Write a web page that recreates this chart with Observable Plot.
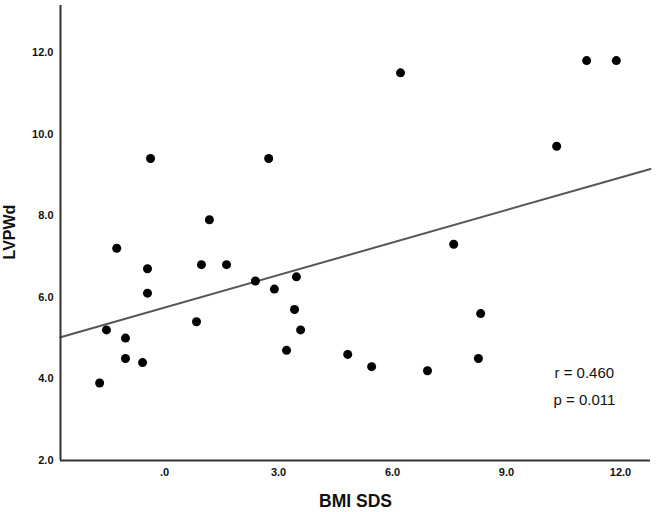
<!DOCTYPE html>
<html><head><meta charset="utf-8">
<script src="https://cdn.jsdelivr.net/npm/d3@7"></script>
<script src="https://cdn.jsdelivr.net/npm/@observablehq/plot@0.6"></script>
<style>body{margin:0;background:#fff;}</style>
</head><body><div id="chart"></div>
<script>
const bmiSds = [-1.71, -1.53, -1.26, -1.03, -1.03, -0.58, -0.45, -0.45, -0.37, 0.84, 0.97, 1.18, 1.63, 2.39, 2.74, 2.89, 3.21, 3.42, 3.47, 3.58, 4.82, 5.45, 6.21, 6.92, 7.61, 8.26, 8.32, 10.32, 11.11, 11.89];
const lvpwd  = [3.9, 5.2, 7.2, 5.0, 4.5, 4.4, 6.7, 6.1, 9.4, 5.4, 6.8, 7.9, 6.8, 6.4, 9.4, 6.2, 4.7, 5.7, 6.5, 5.2, 4.6, 4.3, 11.5, 4.2, 7.3, 4.5, 5.6, 9.7, 11.8, 11.8];
const xTicks = [0, 3, 6, 9, 12];
const yTicks = [2, 4, 6, 8, 10, 12];
const xDomain = [-2.74, 12.79];
const yDomain = [2, 13.15];
const xTitle = "BMI SDS";
const yTitle = "LVPWd";
const statR = "r = 0.460";
const statP = "p = 0.011";

const points = bmiSds.map((x, i) => ({x, y: lvpwd[i]}));
const mx = d3.mean(bmiSds), my = d3.mean(lvpwd);
const slope = d3.sum(points, d => (d.x - mx) * (d.y - my)) / d3.sum(points, d => (d.x - mx) ** 2);
const intercept = my - slope * mx;
const fit = xDomain.map(x => ({x, y: intercept + slope * x}));
const fmt = d => d === 0 ? ".0" : d.toFixed(1);

const chart = Plot.plot({
  width: 657, height: 512,
  marginLeft: 60, marginRight: 7, marginTop: 5, marginBottom: 52,
  style: {fontFamily: "'Liberation Sans', Arial, sans-serif", background: "#fff", color: "#111"},
  x: {domain: xDomain},
  y: {domain: yDomain},
  marks: [
    Plot.axisX(xTicks, {tickSize: 0, tickPadding: 8, tickFormat: fmt, label: null, fontSize: 11, fontWeight: "bold"}),
    Plot.axisY(yTicks, {tickSize: 0, tickPadding: 7, tickFormat: fmt, label: null, fontSize: 11, fontWeight: "bold"}),
    Plot.line(fit, {x: "x", y: "y", stroke: "#555", strokeWidth: 2}),
    Plot.dot(points, {x: "x", y: "y", r: 4.5, fill: "#000", stroke: "none"}),
    Plot.ruleX([xDomain[0]], {stroke: "#333", strokeWidth: 2}),
    Plot.ruleY([yDomain[0]], {stroke: "#333", strokeWidth: 2}),
    Plot.text([xTitle], {frameAnchor: "bottom", lineAnchor: "middle", textAnchor: "middle", dy: 41, fontSize: 17.5, fontWeight: "bold", fill: "#111"}),
    Plot.text([yTitle], {frameAnchor: "left", rotate: -90, textAnchor: "middle", lineAnchor: "middle", dx: -51, dy: -1, fontSize: 16, fontWeight: "bold", fill: "#111"}),
    Plot.text([statR], {frameAnchor: "bottom-right", textAnchor: "start", lineAnchor: "middle", dx: -96, dy: -87, fontSize: 15, fill: "#111"}),
    Plot.text([statP], {frameAnchor: "bottom-right", textAnchor: "start", lineAnchor: "middle", dx: -97, dy: -60, fontSize: 15, fill: "#111"})
  ]
});
document.getElementById("chart").append(chart);
</script>
</body></html>
